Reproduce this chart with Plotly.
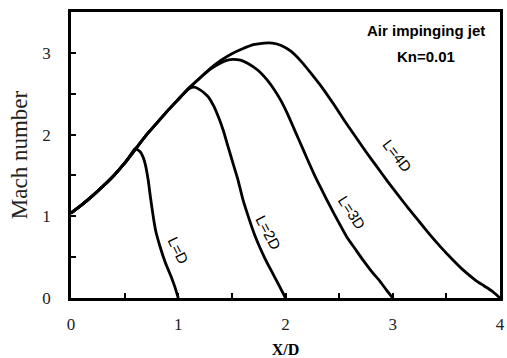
import plotly.graph_objects as go

# L=D  (X/D, Mach)
ld_x = [0.0, 0.1, 0.2, 0.3, 0.4, 0.5, 0.56, 0.60, 0.645, 0.67, 0.69, 0.72, 0.74, 0.753, 0.77, 0.79, 0.83, 0.88, 0.94, 0.97, 1.0]
ld_y = [1.04, 1.14, 1.25, 1.37, 1.50, 1.65, 1.76, 1.83, 1.79, 1.73, 1.65, 1.44, 1.24, 1.12, 0.97, 0.82, 0.63, 0.43, 0.24, 0.13, 0.0]

# L=2D
l2_x = [0.0, 0.1, 0.2, 0.3, 0.4, 0.5, 0.6, 0.7, 0.8, 0.9, 1.0, 1.05, 1.10, 1.15, 1.20, 1.25, 1.28, 1.33, 1.373, 1.42, 1.465, 1.51, 1.558, 1.604, 1.665, 1.71, 1.757, 1.81, 1.865, 1.93, 2.0]
l2_y = [1.04, 1.14, 1.25, 1.37, 1.50, 1.65, 1.82, 1.99, 2.14, 2.29, 2.43, 2.50, 2.56, 2.58, 2.55, 2.50, 2.46, 2.35, 2.22, 2.05, 1.85, 1.65, 1.44, 1.20, 0.95, 0.78, 0.63, 0.48, 0.34, 0.18, 0.0]

# L=3D
l3_x = [0.0, 0.1, 0.2, 0.3, 0.4, 0.5, 0.6, 0.7, 0.8, 0.9, 1.0, 1.1, 1.2, 1.3, 1.4, 1.46, 1.51, 1.58, 1.65, 1.74, 1.834, 1.90, 1.96, 2.02, 2.08, 2.14, 2.20, 2.265, 2.34, 2.417, 2.49, 2.57, 2.65, 2.725, 2.80, 2.878, 2.94, 3.0]
l3_y = [1.04, 1.14, 1.25, 1.37, 1.50, 1.65, 1.82, 1.99, 2.14, 2.29, 2.43, 2.57, 2.69, 2.80, 2.88, 2.91, 2.92, 2.91, 2.87, 2.79, 2.66, 2.54, 2.41, 2.25, 2.07, 1.89, 1.71, 1.52, 1.32, 1.12, 0.94, 0.75, 0.60, 0.46, 0.33, 0.21, 0.10, 0.0]

# L=4D
l4_x = [0.0, 0.1, 0.2, 0.3, 0.4, 0.5, 0.6, 0.7, 0.8, 0.9, 1.0, 1.1, 1.2, 1.3, 1.4, 1.5, 1.6, 1.7, 1.8, 1.88, 1.96, 2.05, 2.15, 2.25, 2.35, 2.45, 2.55, 2.65, 2.75, 2.85, 2.95, 3.05, 3.15, 3.25, 3.35, 3.45, 3.55, 3.65, 3.77, 3.85, 3.92, 4.0]
l4_y = [1.04, 1.14, 1.25, 1.37, 1.50, 1.65, 1.82, 1.99, 2.14, 2.29, 2.43, 2.57, 2.69, 2.81, 2.91, 2.99, 3.05, 3.10, 3.12, 3.12, 3.09, 3.02, 2.89, 2.73, 2.56, 2.37, 2.17, 1.98, 1.79, 1.61, 1.43, 1.26, 1.09, 0.93, 0.77, 0.62, 0.48, 0.35, 0.22, 0.15, 0.09, 0.0]

series = [("L=D", ld_x, ld_y), ("L=2D", l2_x, l2_y), ("L=3D", l3_x, l3_y), ("L=4D", l4_x, l4_y)]

label_text = ["L=D", "L=2D", "L=3D", "L=4D"]
label_x = [1.0, 1.84, 2.62, 3.04]
label_y = [0.58, 0.80, 1.05, 1.74]
label_ang = [64, 62, 57, 52]

x_ticks = [0, 1, 2, 3, 4]
y_ticks = [0, 1, 2, 3]

fig = go.Figure()
for name, xs, ys in series:
    fig.add_trace(go.Scatter(x=xs, y=ys, mode="lines", name=name,
                             line=dict(color="black", width=2.8, shape="spline", smoothing=0.5),
                             showlegend=False))

for t, x, y, a in zip(label_text, label_x, label_y, label_ang):
    fig.add_annotation(x=x, y=y, text=t, showarrow=False, textangle=a,
                       font=dict(family="Liberation Sans", size=15, color="black"))

fig.add_annotation(x=3.31, y=3.27, text="<b>Air impinging jet</b>", showarrow=False,
                   font=dict(family="Liberation Sans", size=15, color="black"))
fig.add_annotation(x=3.31, y=2.95, text="<b>Kn=0.01</b>", showarrow=False,
                   font=dict(family="Liberation Sans", size=15, color="black"))

fig.update_xaxes(range=[0, 4], tickvals=x_ticks, ticks="inside", ticklen=5, tickwidth=2,
                 tickcolor="black", showline=True, linecolor="black", linewidth=2.5, mirror=True,
                 showgrid=False, zeroline=False, ticklabeloverflow="allow", automargin=False,
                 minor=dict(dtick=0.5, ticks="inside", ticklen=5, tickwidth=2, tickcolor="black"),
                 tickfont=dict(family="Liberation Serif", size=17, color="#222"),
                 ticklabelstandoff=9,
                 title=dict(text="<b>X/D</b>", font=dict(family="Liberation Serif", size=16, color="black"), standoff=12))
fig.update_yaxes(range=[0, 3.5], tickvals=y_ticks, ticks="inside", ticklen=5, tickwidth=2,
                 tickcolor="black", showline=True, linecolor="black", linewidth=2.5, mirror=True,
                 showgrid=False, zeroline=False, automargin=False,
                 minor=dict(dtick=0.5, ticks="inside", ticklen=5, tickwidth=2, tickcolor="black"),
                 tickfont=dict(family="Liberation Serif", size=17, color="#222"),
                 ticklabelstandoff=14,
                 title=dict(text="Mach number", font=dict(family="Liberation Serif", size=23, color="#222"), standoff=9))

fig.update_layout(width=507, height=358, margin=dict(l=71, r=7, t=12, b=60),
                  plot_bgcolor="white", paper_bgcolor="white")

fig.write_html("out.html")
